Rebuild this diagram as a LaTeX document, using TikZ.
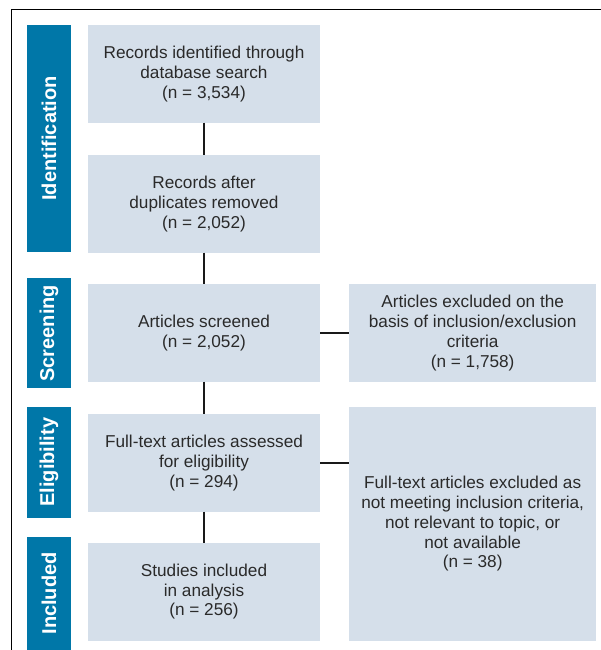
\documentclass[tikz,border=0pt]{standalone}
\usepackage{fontspec}
\setmainfont{Liberation Sans}
\definecolor{barblue}{HTML}{0077A8}
\definecolor{boxfill}{HTML}{D5DFEA}
\definecolor{txt}{HTML}{2A2A2A}
\begin{document}
\begin{tikzpicture}[x=1pt,y=-1pt,
  box/.style={fill=boxfill, draw=none, inner sep=0pt, outer sep=0pt, align=center, text=txt,
    font=\fontsize{17.2}{19.7}\selectfont},
  bar/.style={fill=barblue, draw=none, inner sep=0pt, outer sep=0pt, rotate=90, text=white,
    minimum height=44pt, font=\fontsize{20}{22}\selectfont\bfseries},
  conn/.style={draw=black!90, line width=2pt},
  frame/.style={draw=black, line width=1.3pt}]
\useasboundingbox (0,0) rectangle (601,650);
\fill[white] (0,0) rectangle (601,650);
% frame
\draw[frame] (11.5,650) -- (11.5,9.5) -- (601,9.5);
% phase bars
\node[bar, minimum width=226.7pt] (pid) at (49,138.35) {Identification};
\node[bar, minimum width=109.7pt] (psc) at (49,333.15) {Screening};
\node[bar, minimum width=111pt] (pel) at (49,462.2) {Eligibility};
\node[bar, minimum width=113.3pt] (pin) at (49,593.35) {Included};
% left boxes
\node[box, minimum width=232pt, minimum height=97.7pt] (b1) at (204,73.85)
  {Records identified through\\database search\\(n = 3,534)};
\node[box, minimum width=232pt, minimum height=97.7pt] (b2) at (204,203.85)
  {Records after\\duplicates removed\\(n = 2,052)};
\node[box, minimum width=232pt, minimum height=97.7pt] (b3) at (204,332.85)
  {Articles screened\\(n = 2,052)};
\node[box, minimum width=232pt, minimum height=97.7pt] (b4) at (204,462.85)
  {Full-text articles assessed\\for eligibility\\(n = 294)};
\node[box, minimum width=232pt, minimum height=98pt] (b5) at (204,591.7)
  {Studies included\\in analysis\\(n = 256)};
% right boxes
\node[box, minimum width=246.7pt, minimum height=98pt] (r1) at (472.65,333)
  {Articles excluded on the\\basis of inclusion/exclusion\\criteria\\(n = 1,758)};
\node[box, minimum width=246.7pt, minimum height=233.7pt] (r2) at (472.65,523.85)
  {Full-text articles excluded as\\not meeting inclusion criteria,\\not relevant to topic, or\\not available\\(n = 38)};
% connectors
\draw[conn] (b1.south) -- (b2.north);
\draw[conn] (b2.south) -- (b3.north);
\draw[conn] (b3.south) -- (b4.north);
\draw[conn] (b4.south) -- (b5.north);
\draw[conn] (b3.east) -- (r1.west |- b3.east);
\draw[conn] (b4.east) -- (r2.west |- b4.east);
\end{tikzpicture}
\end{document}
